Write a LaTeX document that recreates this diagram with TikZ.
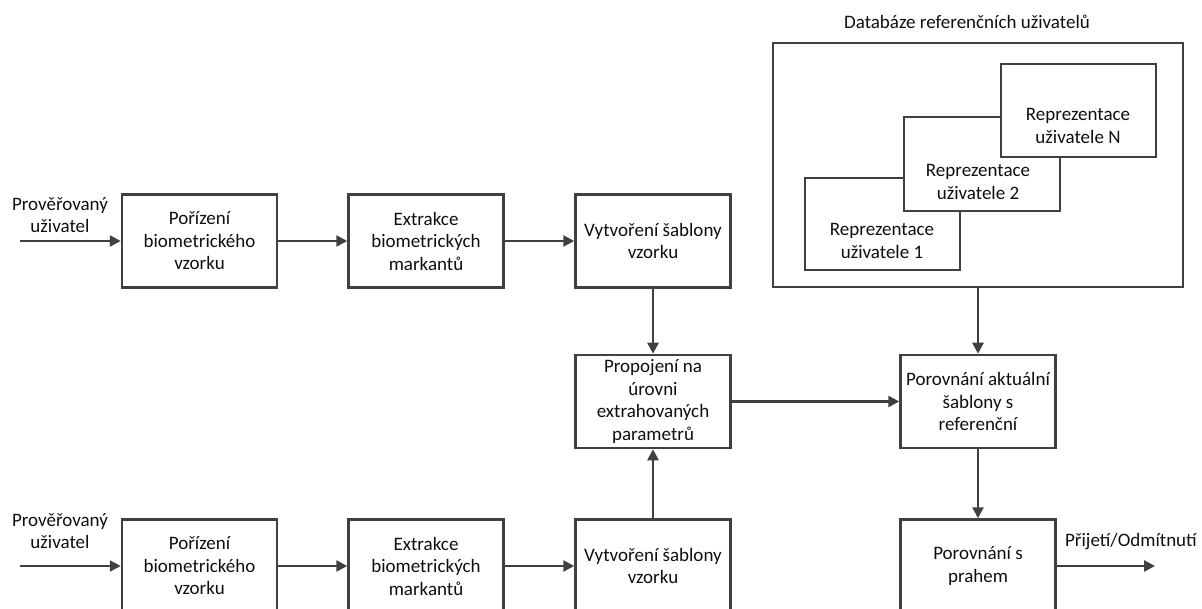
\documentclass[tikz,border=0pt]{standalone}
\usepackage{fontspec}
\setmainfont{Carlito}
\usetikzlibrary{arrows.meta}
\definecolor{linegray}{RGB}{64,64,64}
\definecolor{textdark}{RGB}{15,15,15}
\begin{document}
\begin{tikzpicture}[x=1pt,y=-1pt,
  every node/.style={font=\fontsize{19}{22.5}\selectfont, text=textdark},
  block/.style={draw=linegray, line width=2.5pt, fill=white, minimum width=155pt,
    minimum height=93pt, align=center, inner sep=2pt},
  plain/.style={align=center, inner sep=0pt},
  flow/.style={draw=linegray, line width=2.5pt, -{Triangle[length=11pt,width=11pt]}}
]
\useasboundingbox (0,0) rectangle (1202,609);
\clip (0,0) rectangle (1202,609);

% upper processing chain
\node[plain] (lab1) at (60,215) {Prověřovaný\\uživatel};
\coordinate (in1) at (20,241);
\node[block] (acq1) at (199.5,241) {Pořízení\\biometrického\\vzorku};
\node[block] (ext1) at (426,241) {Extrakce\\biometrických\\markantů};
\node[block] (tpl1) at (653,241) {Vytvoření šablony\\vzorku};

% lower processing chain
\node[plain] (lab2) at (60,531) {Prověřovaný\\uživatel};
\coordinate (in2) at (20,566);
\node[block] (acq2) at (199.5,566) {Pořízení\\biometrického\\vzorku};
\node[block] (ext2) at (426,566) {Extrakce\\biometrických\\markantů};
\node[block] (tpl2) at (653,566) {Vytvoření šablony\\vzorku};

% fusion and comparison
\node[block] (fuse) at (653,401.5) {Propojení na\\úrovni\\extrahovaných\\parametrů};
\node[block] (cmp) at (978,401.5) {Porovnání aktuální\\šablony s\\referenční};
\node[block] (thr) at (978,566) {Porovnání s\\prahem};
\coordinate (out) at (1155,566);
\node[plain, anchor=east] (outlab) at (1197,542) {Přijetí/Odmítnutí};

% reference database with stacked user templates
\node[plain] (dbtitle) at (967,22) {Databáze referenčních uživatelů};
\node[block, minimum width=410pt, minimum height=244pt] (db) at (978,165) {};
\node[block, minimum height=92pt] (rep1) at (882.5,224) {};
\node[plain] (rep1t) at (882,241) {Reprezentace\\uživatele 1};
\node[block, minimum width=156pt, minimum height=94pt] (rep2) at (982,164) {};
\node[plain] (rep2t) at (978,182) {Reprezentace\\uživatele 2};
\node[block] (repN) at (1078.5,110.5) {};
\node[plain] (repNt) at (1078,126) {Reprezentace\\uživatele N};

% connectors
\draw[flow] (in1) -- (acq1);
\draw[flow] (acq1) -- (ext1);
\draw[flow] (ext1) -- (tpl1);
\draw[flow] (in2) -- (acq2);
\draw[flow] (acq2) -- (ext2);
\draw[flow] (ext2) -- (tpl2);
\draw[flow] (tpl1) -- (fuse);
\draw[flow] (tpl2) -- (fuse);
\draw[flow] (fuse) -- (cmp);
\draw[flow] (db) -- (cmp);
\draw[flow] (cmp) -- (thr);
\draw[flow] (thr) -- (out);
\end{tikzpicture}
\end{document}
